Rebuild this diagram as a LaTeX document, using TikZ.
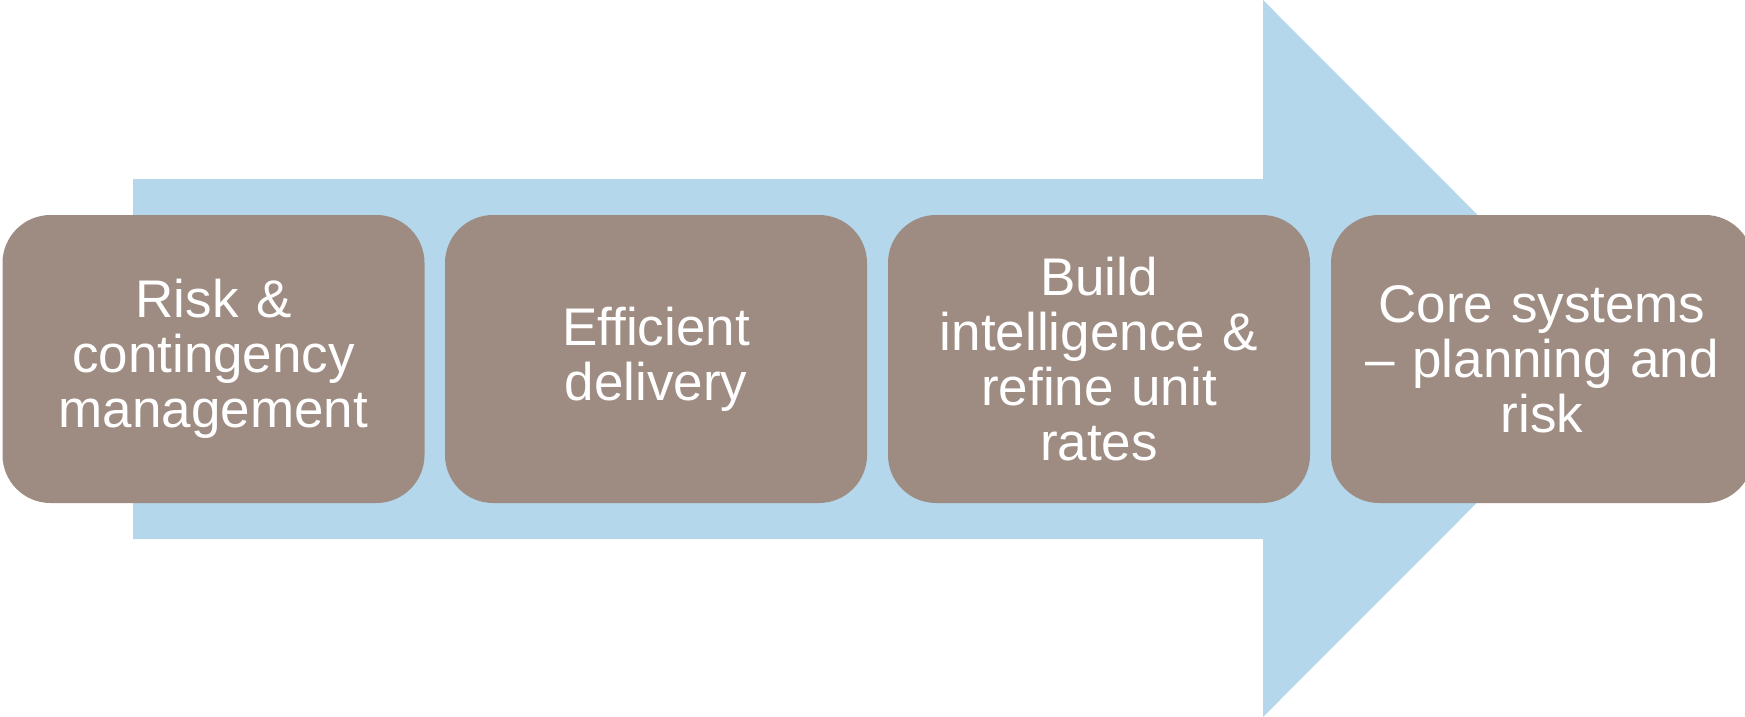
\documentclass[tikz,border=0pt]{standalone}
\usepackage{fontspec}
\setmainfont{Liberation Sans}
\definecolor{arrowblue}{RGB}{180,215,235}
\definecolor{boxbrown}{RGB}{158,140,131}
\tikzset{
  stepbox/.style={fill=boxbrown, draw=none, rounded corners=48pt,
    minimum width=422pt, minimum height=288pt, inner sep=0pt,
    text=white, align=center, text width=400pt,
    font=\fontsize{53}{55}\selectfont}
}
\begin{document}
\begin{tikzpicture}[x=1pt,y=-1pt]
\useasboundingbox (0,0) rectangle (1745,717);
% big arrow
\fill[arrowblue] (133,179) -- (1263,179) -- (1263,0) -- (1621,358.5) -- (1263,717) -- (1263,539) -- (133,539) -- cycle;
% boxes
\node[stepbox] (b1) at (213.5,359) {Risk \&\\contingency\\management};
\node[stepbox] (b2) at (656,359) {Efficient\\delivery};
\node[stepbox] (b3) at (1099,359) {Build\\intelligence \&\\refine unit\\rates};
\node[stepbox] (b4) at (1542,359) {Core systems\\– planning and\\risk};
\end{tikzpicture}
\end{document}
